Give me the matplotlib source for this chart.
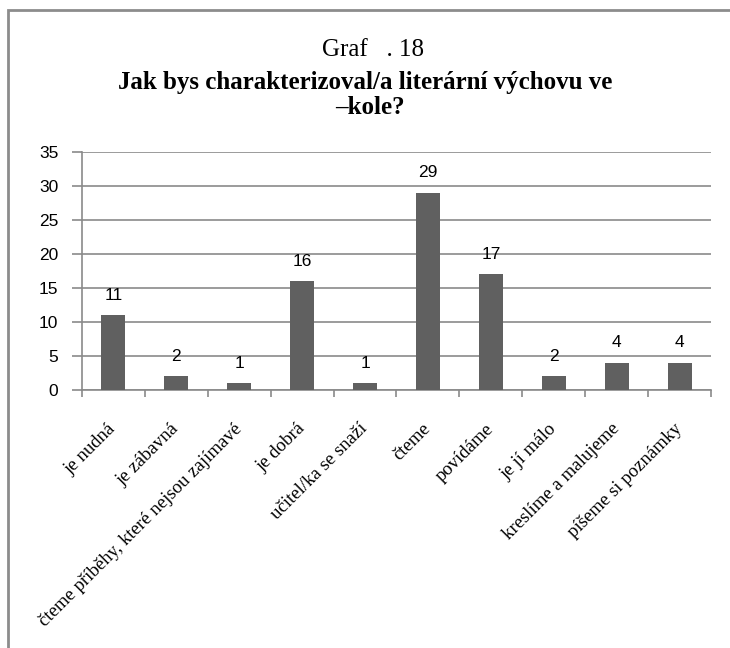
#!/usr/bin/env python3
"""Graf 18 - Jak bys charakterizoval/a literární výchovu ve škole?"""

import matplotlib
matplotlib.use("Agg")
import matplotlib.pyplot as plt
from matplotlib import font_manager
from matplotlib.patches import Rectangle
from matplotlib.transforms import ScaledTranslation
import numpy as np

categories = [
    "je nudná",
    "je zábavná",
    "čteme příběhy, které nejsou zajímavé",
    "je dobrá",
    "učitel/ka se snaží",
    "čteme",
    "povídáme",
    "je jí málo",
    "kreslíme a malujeme",
    "píšeme si poznámky",
]
values = [11, 2, 1, 16, 1, 29, 17, 2, 4, 4]
y_ticks = [0, 5, 10, 15, 20, 25, 30, 35]

BAR_COLOR = "#606060"
GRID_COLOR = "#8a8a8a"


def pick_font(candidates):
    for name in candidates:
        try:
            font_manager.findfont(name, fallback_to_default=False)
            return name
        except ValueError:
            continue
    return candidates[-1]


SERIF = pick_font(["Liberation Serif", "Times New Roman", "DejaVu Serif"])
SANS = pick_font(["Liberation Sans", "Arial", "DejaVu Sans"])

fig = plt.figure(figsize=(7.3, 6.48), dpi=100)
ax = fig.add_axes([0.1123, 0.398, 0.8617, 0.3673])

x = np.arange(len(categories))
ax.bar(x, values, width=0.38, color=BAR_COLOR, zorder=3)

# popisky hodnot nad sloupci
for xi, v in zip(x, values):
    ax.annotate(str(v), (xi, v), xytext=(0, 14.5), textcoords="offset points",
                ha="center", va="center", fontsize=12.5,
                family=SANS, color="black")

ax.set_xlim(-0.5, len(categories) - 0.5)
ax.set_ylim(0, 35)
ax.set_yticks(y_ticks)
ax.set_yticklabels([str(t) for t in y_ticks])
for lbl in ax.get_yticklabels():
    lbl.set_fontfamily(SANS)
    lbl.set_fontsize(12.5)
ax.yaxis.grid(True, color=GRID_COLOR, linewidth=1.2, zorder=0)
ax.set_axisbelow(True)

ax.set_xticks(x)
ax.set_xticks(np.arange(-0.5, len(categories)), minor=True)
ax.set_xticklabels(categories, fontfamily=SERIF, fontsize=13.5)
shift = ScaledTranslation(15 / 100, 0, fig.dpi_scale_trans)
for lbl in ax.get_xticklabels():
    lbl.set_rotation(45)
    lbl.set_rotation_mode("anchor")
    lbl.set_ha("right")
    lbl.set_va("center")
    lbl.set_transform(lbl.get_transform() + shift)
ax.tick_params(axis="x", which="major", length=0, pad=26)
ax.tick_params(axis="x", which="minor", length=5, color=GRID_COLOR, width=1.2)
ax.tick_params(axis="y", length=7, color=GRID_COLOR, width=1.2, pad=10)

for side in ["top", "right"]:
    ax.spines[side].set_visible(False)
for side in ["left", "bottom"]:
    ax.spines[side].set_color(GRID_COLOR)
    ax.spines[side].set_linewidth(1.2)

# titulek
fig.text(0.511, 1 - 50 / 648, "Graf   . 18", ha="center", va="center",
         family=SERIF, fontsize=18)
fig.text(0.5, 1 - 82 / 648, "Jak bys charakterizoval/a literární výchovu ve",
         ha="center", va="center", family=SERIF,
         fontsize=18, fontweight="bold")
fig.text(0.507, 1 - 108 / 648, "–kole?", ha="center", va="center",
         family=SERIF, fontsize=18, fontweight="bold")

# rámeček grafu
fig.patches.append(Rectangle((8 / 730, -0.1), 1.2, 1.1 - 10 / 648,
                             transform=fig.transFigure, fill=False,
                             edgecolor="#8c8c8c", linewidth=2))

fig.savefig("out.png", dpi=100)
